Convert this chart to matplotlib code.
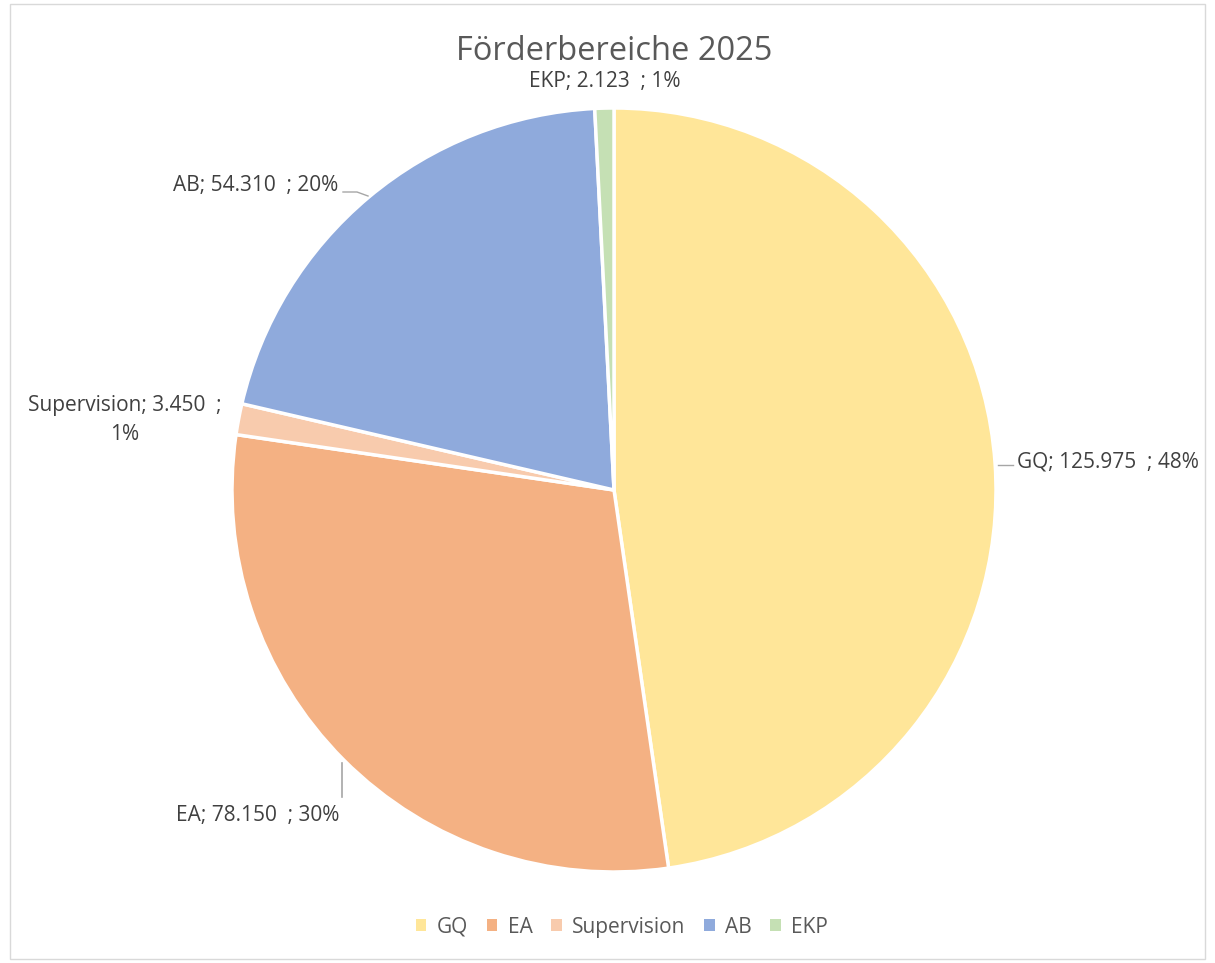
import matplotlib
matplotlib.use("Agg")
import matplotlib.pyplot as plt
from matplotlib.patches import Rectangle

# data
categories = ["GQ", "EA", "Supervision", "AB", "EKP"]
values = [125.975, 78.150, 3.450, 54.310, 2.123]
value_labels = ["125.975", "78.150", "3.450", "54.310", "2.123"]
pct_labels = ["48%", "30%", "1%", "20%", "1%"]
colors = ["#FFE699", "#F4B183", "#F8CBAD", "#8FAADC", "#C5E0B4"]

W, H = 1215, 963
plt.rcParams['font.family'] = ['Open Sans', 'DejaVu Sans']
fig = plt.figure(figsize=(W / 100, H / 100), dpi=100)

# light chart border
fig.patches.append(Rectangle((10 / W, 4 / H), 1195 / W, 955 / H, transform=fig.transFigure,
                             fill=False, edgecolor="#D9D9D9", linewidth=1))

cx, cy, r = 614, 490, 382
ax = fig.add_axes([(cx - r) / W, (H - cy - r) / H, 2 * r / W, 2 * r / H])
wedges, _ = ax.pie(values, colors=colors, startangle=90, counterclock=False, radius=1,
                   wedgeprops=dict(edgecolor="white", linewidth=2.5))
ax.set_xlim(-1, 1)
ax.set_ylim(-1, 1)
ax.set_aspect("equal")
ax.axis("off")

txt = [f"{c}; {v}  ; {p}" for c, v, p in zip(categories, value_labels, pct_labels)]
txt[2] = f"{categories[2]}; {value_labels[2]}  ;\n{pct_labels[2]}"

def px(x, y):
    return (x / W, 1 - y / H)

lab_col = "#404040"
fs = 15
# label placement (pixels): (x, y, ha)
pos = [(1017, 462, "left"), (258, 815, "center"), (125, 420, "center"),
       (338, 185, "right"), (605, 82, "center")]
for t, (x, y, ha) in zip(txt, pos):
    fig.text(*px(x, y), t, ha=ha, va="center", fontsize=fs, color=lab_col,
             linespacing=1.45)

# leader lines
lc = "#A6A6A6"
fig.add_artist(plt.Line2D([998 / W, 1013 / W], [1 - 465 / H, 1 - 465 / H], color=lc, lw=1))
fig.add_artist(plt.Line2D([342 / W, 342 / W], [1 - 763 / H, 1 - 797 / H], color=lc, lw=1.2))
fig.add_artist(plt.Line2D([343 / W, 357 / W, 368 / W], [1 - 192 / H, 1 - 192 / H, 1 - 196 / H],
                          color=lc, lw=1))

fig.text(*px(614, 52), "Förderbereiche 2025", ha="center", va="center",
         fontsize=23.5, color="#595959")

handles = [Rectangle((0, 0), 1, 1, facecolor=c, edgecolor="none") for c in colors]
fig.legend(handles, categories, loc="center", bbox_to_anchor=px(622, 927), ncol=5,
           frameon=False, fontsize=fs, labelcolor="#595959", handlelength=0.5,
           handleheight=0.5, handletextpad=0.5, columnspacing=0.9)

fig.savefig("out.png", dpi=100)
